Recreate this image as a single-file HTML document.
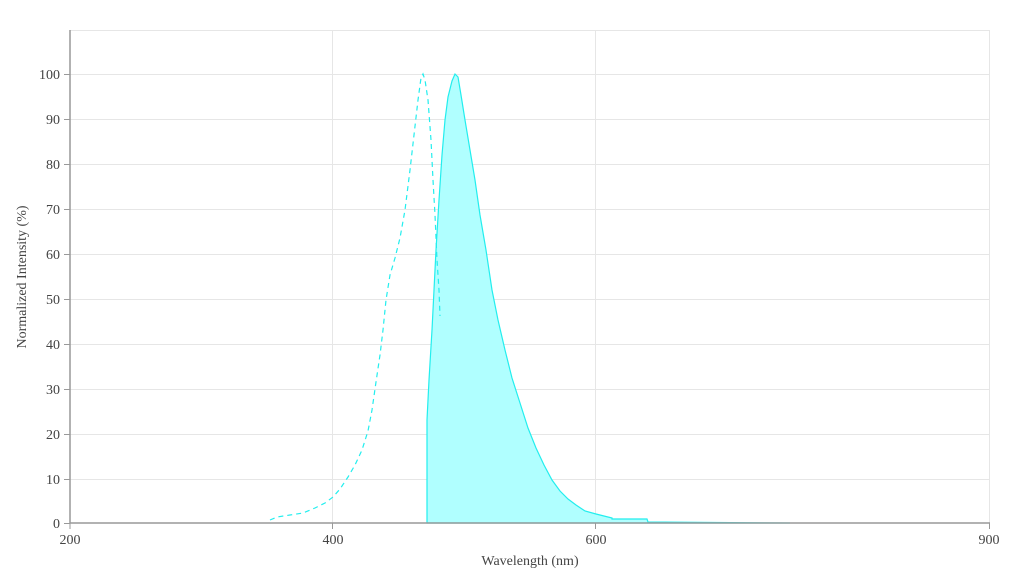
<!DOCTYPE html>
<html><head><style>body{margin:0;background:#fff}svg text{font-family:"Liberation Serif",serif;fill:#444}</style></head>
<body>
<svg width="1010" height="574" viewBox="0 0 1010 574" xmlns="http://www.w3.org/2000/svg">
<g stroke="#e6e6e6" stroke-width="1">
<line x1="70" x2="990" y1="30.5" y2="30.5"/>
<line x1="70" x2="990" y1="74.5" y2="74.5"/><line x1="70" x2="990" y1="119.5" y2="119.5"/>
<line x1="70" x2="990" y1="164.5" y2="164.5"/><line x1="70" x2="990" y1="209.5" y2="209.5"/>
<line x1="70" x2="990" y1="254.5" y2="254.5"/><line x1="70" x2="990" y1="299.5" y2="299.5"/>
<line x1="70" x2="990" y1="344.5" y2="344.5"/><line x1="70" x2="990" y1="389.5" y2="389.5"/>
<line x1="70" x2="990" y1="434.5" y2="434.5"/><line x1="70" x2="990" y1="479.5" y2="479.5"/>
<line x1="332.5" x2="332.5" y1="30" y2="523"/><line x1="595.5" x2="595.5" y1="30" y2="523"/>
<line x1="989.5" x2="989.5" y1="30" y2="523"/>
</g>
<path d="M427,523 L427,420 L429,380 L432,330 L434,290 L436,250 L439,200 L442,155 L445,120 L448,97 L452,81 L455,74 L458,77 L461,95 L465,120 L470,150 L475,180 L480,215 L486,250 L492,290 L498,320 L505,350 L512,378 L520,403 L528,428 L536,448 L544,465 L552,480 L560,491 L568,499 L576,505 L585,511 L596,514 L612,518 L612,519 L647,519 L648,522 L790,523 L790,523 Z" fill="#b0ffff" stroke="#22eeee" stroke-width="1.2"/>
<polyline points="270,520 277,517 290,515 303,513 315,508 325,503 333,497 340,489 348,477 355,465 362,450 368,431 372,410 376,382 380,355 383,330 386,300 390,275 395,258 400,238 405,210 410,170 414,135 418,100 421,78 423,74 425,80 428,100 431,140 433,180 435,215 437,260 439,290 440,316" fill="none" stroke="#22eeee" stroke-width="1.2" stroke-dasharray="5,4"/>
<g stroke="#999" stroke-width="1.5"><line x1="70" x2="990" y1="523" y2="523"/><line x1="70" x2="70" y1="30" y2="523"/></g>
<g stroke="#999"><line x1="332.5" x2="332.5" y1="523" y2="529"/><line x1="595.5" x2="595.5" y1="523" y2="529"/><line x1="989.5" x2="989.5" y1="523" y2="529"/><line x1="70" x2="70" y1="523" y2="529"/>
<line x1="64" x2="70" y1="74.5" y2="74.5"/><line x1="64" x2="70" y1="119.5" y2="119.5"/><line x1="64" x2="70" y1="164.5" y2="164.5"/><line x1="64" x2="70" y1="209.5" y2="209.5"/><line x1="64" x2="70" y1="254.5" y2="254.5"/><line x1="64" x2="70" y1="299.5" y2="299.5"/><line x1="64" x2="70" y1="344.5" y2="344.5"/><line x1="64" x2="70" y1="389.5" y2="389.5"/><line x1="64" x2="70" y1="434.5" y2="434.5"/><line x1="64" x2="70" y1="479.5" y2="479.5"/><line x1="64" x2="70" y1="523.5" y2="523.5"/></g>
<g font-size="14" text-anchor="end">
<text x="60" y="79">100</text><text x="60" y="124">90</text><text x="60" y="169">80</text><text x="60" y="214">70</text><text x="60" y="259">60</text><text x="60" y="304">50</text><text x="60" y="349">40</text><text x="60" y="394">30</text><text x="60" y="439">20</text><text x="60" y="484">10</text><text x="60" y="528">0</text></g>
<g font-size="14" text-anchor="middle">
<text x="70" y="544">200</text><text x="333" y="544">400</text><text x="596" y="544">600</text><text x="989" y="544">900</text>
<text x="530" y="565">Wavelength (nm)</text>
<text transform="translate(26,277) rotate(-90)">Normalized Intensity (%)</text></g>
</svg>
</body></html>
